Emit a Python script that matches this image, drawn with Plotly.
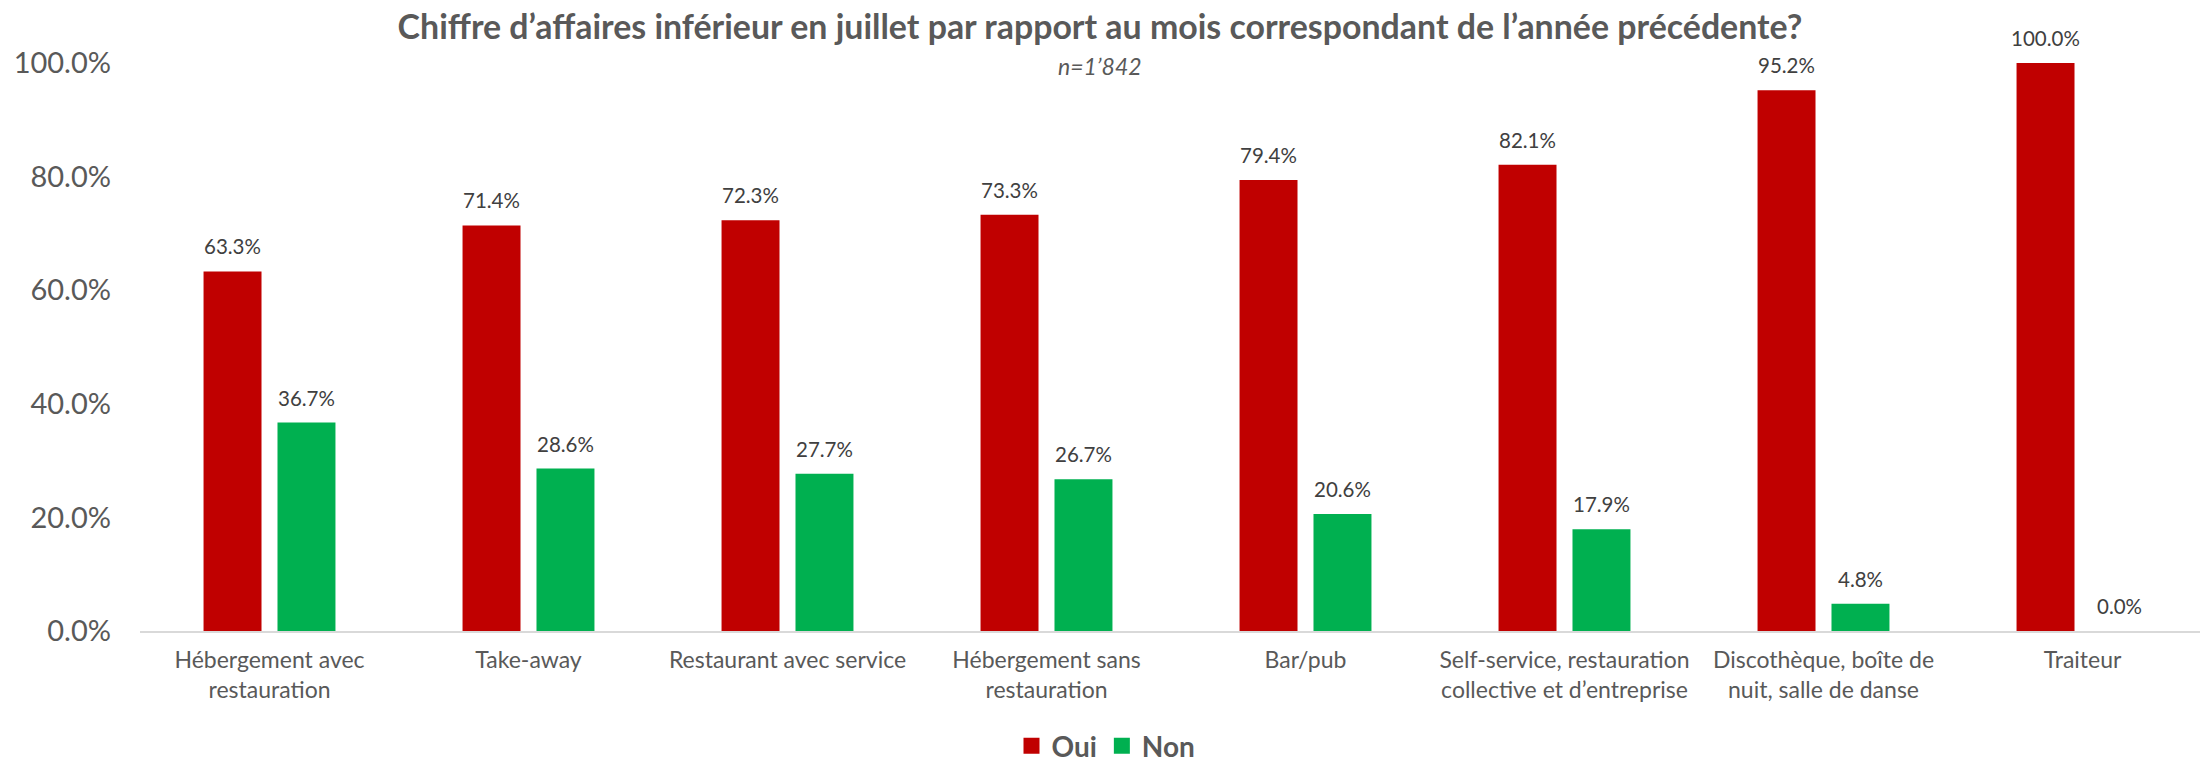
import plotly.graph_objects as go

categories = [
    "Hébergement avec<br>restauration",
    "Take-away",
    "Restaurant avec service",
    "Hébergement sans<br>restauration",
    "Bar/pub",
    "Self-service, restauration<br>collective et d’entreprise",
    "Discothèque, boîte de<br>nuit, salle de danse",
    "Traiteur",
]
series_names = ["Oui", "Non"]
oui = [0.633, 0.714, 0.723, 0.733, 0.794, 0.821, 0.952, 1.000]
non = [0.367, 0.286, 0.277, 0.267, 0.206, 0.179, 0.048, 0.000]
y_ticks = [0, 0.2, 0.4, 0.6, 0.8, 1.0]

FONT = "Lato"
GREY = "#595959"
LABEL = "#404040"
RED, GREEN = "#C00000", "#00B050"

W, H = 2200, 763
ML, MR, MT, MB = 140, 0, 63, 132
PW = W - ML - MR
PH = H - MT - MB
X_RANGE = [-0.5, -0.5 + PW / 259.0]
BARGAP, BARGROUPGAP = 0.429, 0.216
px_per_cat = PW / (X_RANGE[1] - X_RANGE[0])
bar_offset = px_per_cat * (1 - BARGAP) / 4

fig = go.Figure()
for name, vals, col in [(series_names[0], oui, RED), (series_names[1], non, GREEN)]:
    fig.add_trace(go.Bar(name=name, x=categories, y=vals, marker_color=col,
                         marker_line_width=0, showlegend=False))
# legend entries with larger square swatches
for name, col in [(series_names[0], RED), (series_names[1], GREEN)]:
    fig.add_trace(go.Scatter(name=name, x=[None], y=[None], mode="markers",
                             marker=dict(symbol="square", size=18, color=col)))

annotations = []
for vals, sign in [(oui, -1), (non, 1)]:
    for cat, v in zip(categories, vals):
        annotations.append(dict(
            x=cat, y=v, xref="x", yref="y", text=f"{v:.1%}", showarrow=False,
            xshift=sign * bar_offset, yshift=25, yanchor="middle",
            font=dict(family=FONT, size=20.5, color=LABEL),
        ))
annotations.append(dict(
    text="<i>n=1’842</i>", x=(1100 - ML) / PW, xref="paper",
    y=1 - (66 - MT) / PH, yref="paper", yanchor="middle", xanchor="center",
    showarrow=False, font=dict(family=FONT, size=23, color=GREY),
))

fig.update_layout(
    width=W, height=H,
    paper_bgcolor="white", plot_bgcolor="white",
    margin=dict(l=ML, r=MR, t=MT, b=MB, autoexpand=False),
    barmode="group", bargap=BARGAP, bargroupgap=BARGROUPGAP,
    font=dict(family=FONT, color=GREY),
    title=dict(
        text="<b>Chiffre d’affaires inférieur en juillet par rapport au mois correspondant de l’année précédente?</b>",
        x=0.5, xanchor="center", xref="container",
        y=1 - 27 / H, yanchor="middle", yref="container",
        font=dict(family=FONT, size=33.9, color=GREY),
    ),
    showlegend=True,
    legend=dict(
        orientation="h", x=(1106 - ML) / PW, xanchor="center",
        y=-(746 - (H - MB)) / PH, yanchor="middle",
        font=dict(family=FONT, size=28, color=GREY, weight="bold"),
        itemwidth=30,
    ),
    annotations=annotations,
)

fig.update_xaxes(
    range=X_RANGE, automargin=False,
    showline=True, linecolor="#D9D9D9", linewidth=2,
    ticks="", showgrid=False, ticklabelstandoff=7,
    tickfont=dict(family=FONT, size=23, color=GREY),
)
fig.update_yaxes(
    range=[0, 1], tickvals=y_ticks, tickformat=".1%", automargin=False,
    showgrid=False, zeroline=False, showline=False, ticks="",
    tickfont=dict(family=FONT, size=29, color=GREY),
    ticklabelstandoff=28,
)

fig.write_html(
    "out.html",
    config={"displayModeBar": False},
    post_script="document.body.style.margin='0';document.body.style.overflow='hidden';",
)
